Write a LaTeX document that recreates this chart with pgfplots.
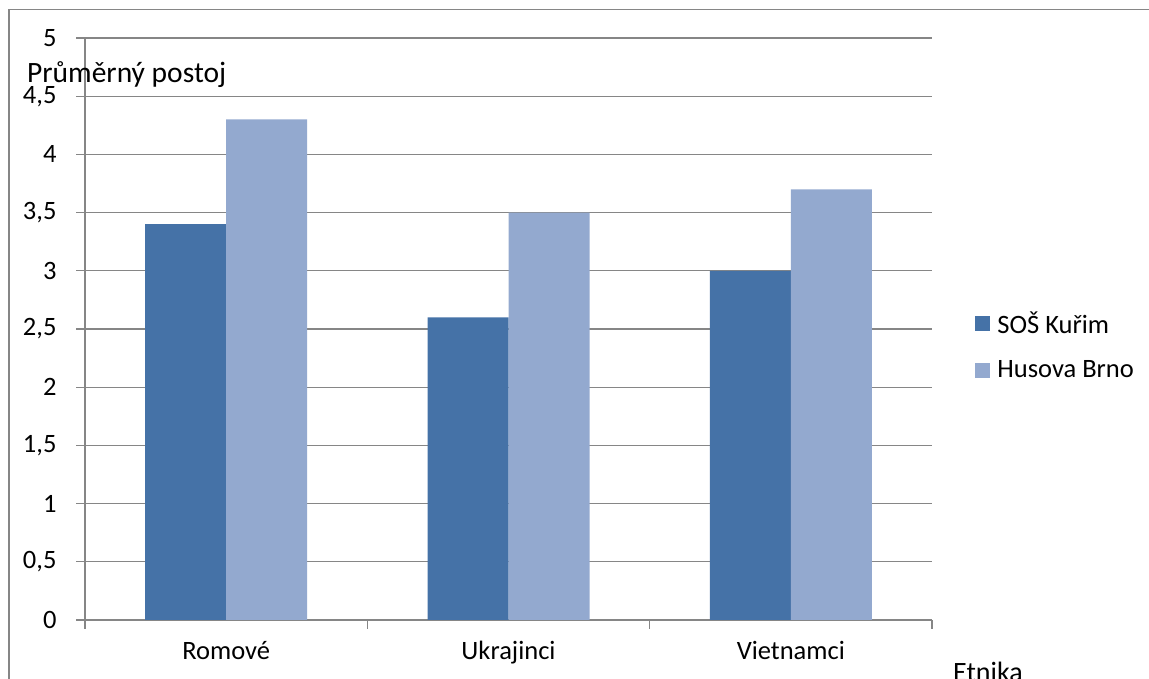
\documentclass[border=0pt]{standalone}
\usepackage{pgfplots}
\pgfplotsset{compat=1.18}
\usepackage{fontspec}
\setmainfont{Carlito}
\definecolor{darkb}{HTML}{4572A7}
\definecolor{lightb}{HTML}{93A9CF}
\definecolor{gridg}{HTML}{868686}
\newcommand{\fs}{\fontsize{26.5}{31}\selectfont}
\begin{document}
\begin{tikzpicture}[x=1pt,y=1pt]
\useasboundingbox (0,0) rectangle (1149,679);
\draw[gridg,line width=1.5pt] (9,-5) -- (9,669.5) -- (1155,669.5);
\begin{axis}[
  at={(85pt,59pt)}, anchor=south west,
  scale only axis, width=847pt, height=582pt,
  ybar=0pt, bar width=81pt,
  xmin=-0.5, xmax=2.5, ymin=0, ymax=5,
  ytick={0,0.5,...,5},
  xtick={-0.5,0.5,1.5,2.5}, xticklabels={},
  extra x ticks={0,1,2},
  extra x tick labels={Romové,Ukrajinci,Vietnamci},
  extra x tick style={major tick length=0pt, xmajorgrids=false},
  major tick length=9pt,
  tick align=outside,
  axis x line*=bottom, axis y line*=left,
  axis line style={draw=gridg,line width=1.2pt,-},
  tick style={draw=gridg,line width=1.2pt},
  ymajorgrids, grid style={draw=gridg,line width=1.2pt},
  /pgf/number format/assume math mode=true,
  /pgf/number format/use comma,
  ticklabel style={font=\fs, text=black},
  yticklabel style={xshift=-16pt},
  xticklabel style={yshift=-18pt},
  legend style={draw=none, fill=none, at={(rel axis cs:1.051,0.4716)}, anchor=west,
     font=\fs, /tikz/row sep=26pt, /tikz/column sep=7pt, inner sep=0pt,
     legend cell align=left, nodes={inner sep=0pt}},
  legend image code/.code={\fill[#1,draw=none] (0pt,-7.5pt) rectangle (15pt,7.5pt);},
  clip=false,
]
\addplot[fill=darkb, draw=none] coordinates {(0,3.4) (1,2.6) (2,3.0)};
\addlegendentry{SOŠ Kuřim}
\addplot[fill=lightb, draw=none] coordinates {(0,4.3) (1,3.5) (2,3.7)};
\addlegendentry{Husova Brno}
\end{axis}
\node[anchor=west, inner sep=0pt, font=\fontsize{29.5}{34}\selectfont] at (27,604) {Průměrný postoj};
\node[anchor=west, inner sep=0pt, font=\fontsize{28}{33}\selectfont] at (953,7) {Etnika};
\end{tikzpicture}
\end{document}
